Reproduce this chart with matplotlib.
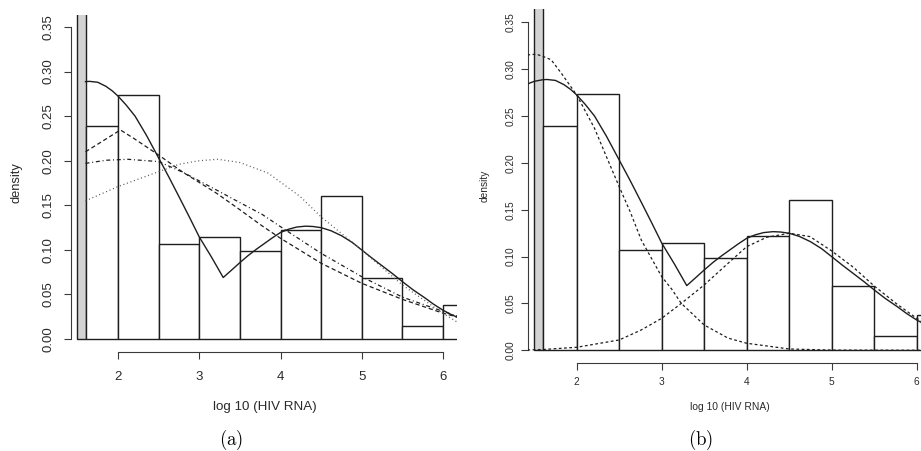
import numpy as np
import matplotlib
matplotlib.use('Agg')
import matplotlib.pyplot as plt

plt.rcParams['font.family'] = ['Liberation Sans', 'DejaVu Sans']
plt.rcParams['mathtext.fontset'] = 'cm'

# histogram of log10 HIV RNA (density scale)
bin_edges = [1.6, 2.0, 2.5, 3.0, 3.5, 4.0, 4.5, 5.0, 5.5, 6.0, 6.5]
bin_heights = [0.239, 0.274, 0.107, 0.114, 0.099, 0.122, 0.160, 0.069, 0.015, 0.038]
# censored mass below detection limit (goes off the top)
cens_edges = [1.5, 1.6]
cens_height = 0.5

x_ticks = [2, 3, 4, 5, 6]
y_ticks = [0.00, 0.05, 0.10, 0.15, 0.20, 0.25, 0.30, 0.35]
y_ticklabels = ['0.00', '0.05', '0.10', '0.15', '0.20', '0.25', '0.30', '0.35']

# fitted mixture density (solid, both panels)
x_mix = [1.42, 1.50, 1.60, 1.65, 1.75, 1.85, 1.93, 2.00, 2.10, 2.21, 2.35, 2.50, 2.63, 2.76,
         2.88, 3.00, 3.15, 3.295, 3.40, 3.50, 3.60, 3.70, 3.80, 3.90, 4.00, 4.10, 4.20, 4.31,
         4.40, 4.50, 4.62, 4.75, 4.88, 5.00, 5.12, 5.25, 5.38, 5.50, 5.63, 5.77, 5.88, 6.00,
         6.10, 6.20]
y_mix = [0.2842, 0.2870, 0.2887, 0.2890, 0.2880, 0.2835, 0.2783, 0.2725, 0.2625, 0.2500,
         0.2285, 0.2031, 0.1810, 0.1580, 0.1365, 0.1145, 0.0920, 0.0690, 0.0775, 0.0857,
         0.0935, 0.1005, 0.1070, 0.1135, 0.1195, 0.1232, 0.1256, 0.1266, 0.1262, 0.1249,
         0.1215, 0.1159, 0.1085, 0.0999, 0.0912, 0.0822, 0.0732, 0.0644, 0.0553, 0.0466,
         0.0393, 0.0323, 0.0275, 0.0235]

# panel (a) other fits
x_dash_a = [1.60, 1.80, 2.03, 2.20, 2.50, 2.80, 3.215, 3.50, 3.772, 4.00, 4.50, 5.00, 5.50, 6.00, 6.20]
y_dash_a = [0.210, 0.2214, 0.2345, 0.2247, 0.2064, 0.187, 0.1634, 0.145, 0.127, 0.113,
            0.085, 0.0625, 0.0445, 0.029, 0.024]

x_dashdot_a = [1.60, 1.85, 2.12, 2.50, 2.80, 3.215, 3.50, 3.772, 4.00, 4.50, 5.00, 5.50, 6.00, 6.20]
y_dashdot_a = [0.197, 0.2005, 0.2016, 0.199, 0.187, 0.167, 0.153, 0.1399, 0.126, 0.0961,
               0.0699, 0.047, 0.031, 0.025]

x_dot_a = [1.60, 2.00, 2.50, 2.75, 3.00, 3.23, 3.50, 3.85, 4.244, 4.50, 5.00, 5.50, 6.00, 6.20]
y_dot_a = [0.155, 0.171, 0.1877, 0.196, 0.200, 0.2016, 0.198, 0.186, 0.1597, 0.137,
           0.0998, 0.0606, 0.0288, 0.0176]

# panel (b) mixture components
x_comp1 = [1.42, 1.525, 1.61, 1.70, 1.82, 2.00, 2.21, 2.35, 2.50, 2.63, 2.76, 3.00, 3.12,
           3.23, 3.50, 3.78, 4.00, 4.50, 5.00, 6.20]
y_comp1 = [0.3152, 0.316, 0.3134, 0.310, 0.2956, 0.2725, 0.2369, 0.2066, 0.1746, 0.1477,
           0.1177, 0.0786, 0.065, 0.0501, 0.027, 0.013, 0.0075, 0.0014, 0.0002, 0.0]

x_comp2 = [1.42, 1.60, 2.00, 2.50, 2.76, 3.00, 3.23, 3.50, 3.78, 4.00, 4.235, 4.50, 4.745,
           5.00, 5.254, 5.50, 5.765, 6.00, 6.20]
y_comp2 = [0.0003, 0.0008, 0.0032, 0.011, 0.0217, 0.0341, 0.050, 0.0697, 0.0928, 0.1106,
           0.1206, 0.1249, 0.1213, 0.106, 0.0886, 0.0686, 0.0494, 0.0341, 0.024]

AXC = '#3a3a3a'
LC = '#1e1e1e'


def draw_hist(ax, lw):
    ax.bar(cens_edges[0], cens_height, width=cens_edges[1] - cens_edges[0], align='edge',
           facecolor='#d3d3d3', edgecolor=LC, linewidth=lw, zorder=1)
    ax.bar(bin_edges[:-1], bin_heights, width=np.diff(bin_edges), align='edge',
           facecolor='white', edgecolor=LC, linewidth=lw, zorder=1)


def style_axes(ax, fs, pad_x, pad_y):
    ax.set_xlim(1.424, 6.176)
    ax.set_ylim(-0.014, 0.364)
    for s in ['top', 'right']:
        ax.spines[s].set_visible(False)
    ax.spines['left'].set_bounds(0, 0.35)
    ax.spines['bottom'].set_bounds(2, 6)
    for s in ['left', 'bottom']:
        ax.spines[s].set_color(AXC)
        ax.spines[s].set_linewidth(0.8)
    ax.set_xticks(x_ticks)
    ax.set_xticklabels([str(t) for t in x_ticks])
    ax.set_yticks(y_ticks)
    ax.set_yticklabels(y_ticklabels, rotation=90, va='center')
    ax.tick_params(axis='both', length=5, width=0.8, color=AXC, labelcolor='#2a2a2a',
                   labelsize=fs)
    ax.tick_params(axis='x', pad=pad_x)
    ax.tick_params(axis='y', pad=pad_y)


fig = plt.figure(figsize=(9.21, 4.51), dpi=100)
W, H = 921.0, 451.0
ax_a = fig.add_axes([71.2 / W, (H - 351.5) / H, 386.1 / W, 337.0 / H])
ax_b = fig.add_axes([527.7 / W, (H - 363.4) / H, 404.0 / W, 354.2 / H])

# (a)
draw_hist(ax_a, 1.0)
ax_a.plot(x_mix[2:], y_mix[2:], color=LC, lw=1.0, zorder=3)
ax_a.plot(x_dash_a, y_dash_a, color=LC, lw=0.9, linestyle=(0, (3.4, 2.2)), zorder=3)
ax_a.plot(x_dashdot_a, y_dashdot_a, color=LC, lw=0.9, linestyle=(0, (3.2, 2.2, 0.8, 2.2)), zorder=3)
ax_a.plot(x_dot_a, y_dot_a, color='#555555', lw=0.9, linestyle=(0, (0.8, 2.2)), zorder=3)
style_axes(ax_a, 9.5, 9, 7)

# (b)
draw_hist(ax_b, 1.0)
ax_b.plot(x_mix, y_mix, color=LC, lw=1.0, zorder=3)
ax_b.plot(x_comp1, y_comp1, color=LC, lw=0.9, linestyle=(0, (2.2, 2.0)), zorder=3)
ax_b.plot(x_comp2, y_comp2, color=LC, lw=0.9, linestyle=(0, (2.2, 2.0)), zorder=3)
style_axes(ax_b, 7.3, 5, 4)

# axis titles
fig.text(16.7 / W, 1 - 183 / H, 'density', rotation=90, ha='center', va='center',
         fontsize=9.3, color='#2a2a2a')
fig.text(264.5 / W, 1 - 407 / H, 'log 10 (HIV RNA)', ha='center', va='center',
         fontsize=9.6, color='#2a2a2a')
fig.text(485 / W, 1 - 186 / H, 'density', rotation=90, ha='center', va='center',
         fontsize=7.3, color='#2a2a2a')
fig.text(729.7 / W, 1 - 407 / H, 'log 10 (HIV RNA)', ha='center', va='center',
         fontsize=7.4, color='#2a2a2a')

# sub-figure captions
fig.text(230.7 / W, 1 - 440 / H, r'$\mathrm{(a)}$', ha='center', va='center', fontsize=13.5)
fig.text(700.7 / W, 1 - 440 / H, r'$\mathrm{(b)}$', ha='center', va='center', fontsize=13.5)

fig.savefig('out.png', dpi=100)
